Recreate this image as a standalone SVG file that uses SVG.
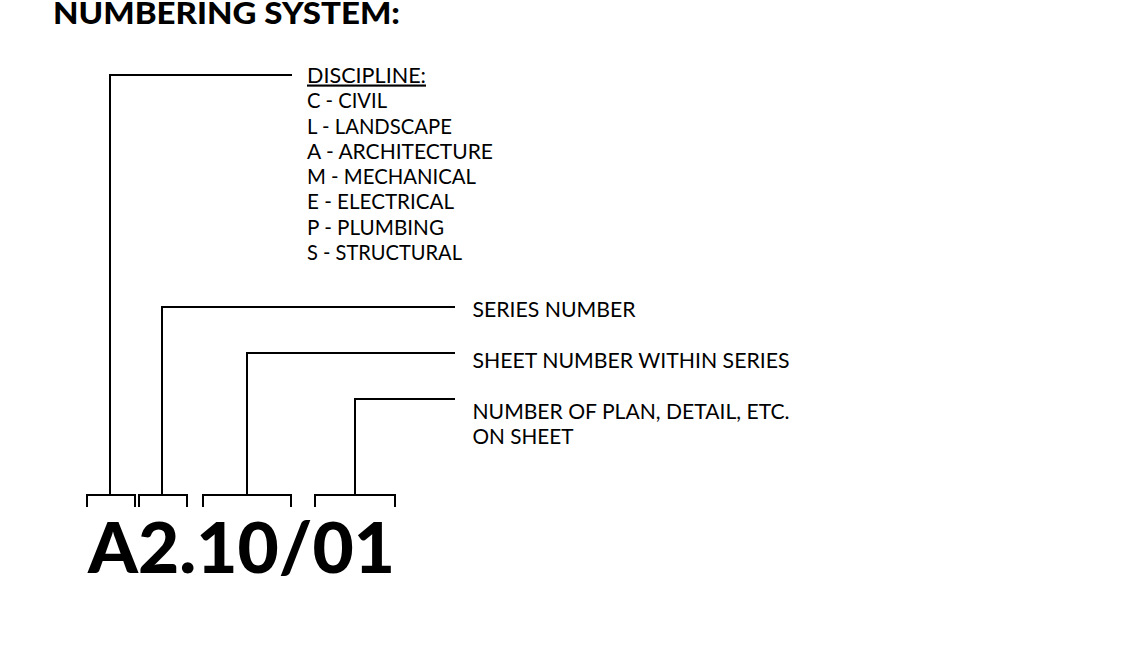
<svg xmlns="http://www.w3.org/2000/svg" width="1128" height="651" viewBox="0 0 1128 651">
<style>
.t{font-family:Lato,"Liberation Sans",sans-serif;font-size:21.5px;fill:#000}
.ln{fill:none;stroke:#000;stroke-width:2}
</style>
<rect width="1128" height="651" fill="#fff"/>
<text x="53" y="23.5" textLength="347" lengthAdjust="spacingAndGlyphs" style="font-family:Lato,sans-serif;font-weight:900;font-size:30.5px">NUMBERING SYSTEM:</text>
<g id="connectors">
<polyline class="ln" points="292,75 110,75 110,496"/>
<polyline class="ln" points="455,307 162,307 162,496"/>
<polyline class="ln" points="455,353 247,353 247,496"/>
<polyline class="ln" points="455,399 355,399 355,496"/>
</g>
<g id="brackets">
<polyline class="ln" points="87,507 87,495 135,495 135,507"/>
<polyline class="ln" points="139,507 139,495 187,495 187,507"/>
<polyline class="ln" points="203,507 203,495 291,495 291,507"/>
<polyline class="ln" points="315,507 315,495 395,495 395,507"/>
</g>
<g id="discipline">
<text class="t" x="307" y="82.5" textLength="119" lengthAdjust="spacingAndGlyphs" text-decoration="underline">DISCIPLINE:</text>
<text class="t" x="307" y="108" textLength="80" lengthAdjust="spacingAndGlyphs">C - CIVIL</text>
<text class="t" x="307" y="134" textLength="145" lengthAdjust="spacingAndGlyphs">L - LANDSCAPE</text>
<text class="t" x="307" y="159" textLength="186" lengthAdjust="spacingAndGlyphs">A - ARCHITECTURE</text>
<text class="t" x="307" y="184" textLength="169" lengthAdjust="spacingAndGlyphs">M - MECHANICAL</text>
<text class="t" x="307" y="209" textLength="147" lengthAdjust="spacingAndGlyphs">E - ELECTRICAL</text>
<text class="t" x="307" y="235" textLength="137" lengthAdjust="spacingAndGlyphs">P - PLUMBING</text>
<text class="t" x="307" y="260" textLength="155" lengthAdjust="spacingAndGlyphs">S - STRUCTURAL</text>
</g>
<g id="series"><text class="t" x="472.5" y="316.5" textLength="163" lengthAdjust="spacingAndGlyphs">SERIES NUMBER</text></g>
<g id="sheet"><text class="t" x="472.5" y="367.5" textLength="317" lengthAdjust="spacingAndGlyphs">SHEET NUMBER WITHIN SERIES</text></g>
<g id="plan"><text class="t" x="472.5" y="419" textLength="317" lengthAdjust="spacingAndGlyphs">NUMBER OF PLAN, DETAIL, ETC.</text><text class="t" x="472.5" y="444" textLength="101" lengthAdjust="spacingAndGlyphs">ON SHEET</text></g>
<g id="code"><text x="88" y="573" textLength="307" lengthAdjust="spacingAndGlyphs" style="font-family:Lato,sans-serif;font-weight:900;font-size:70px">A2.10/01</text></g>
</svg>
